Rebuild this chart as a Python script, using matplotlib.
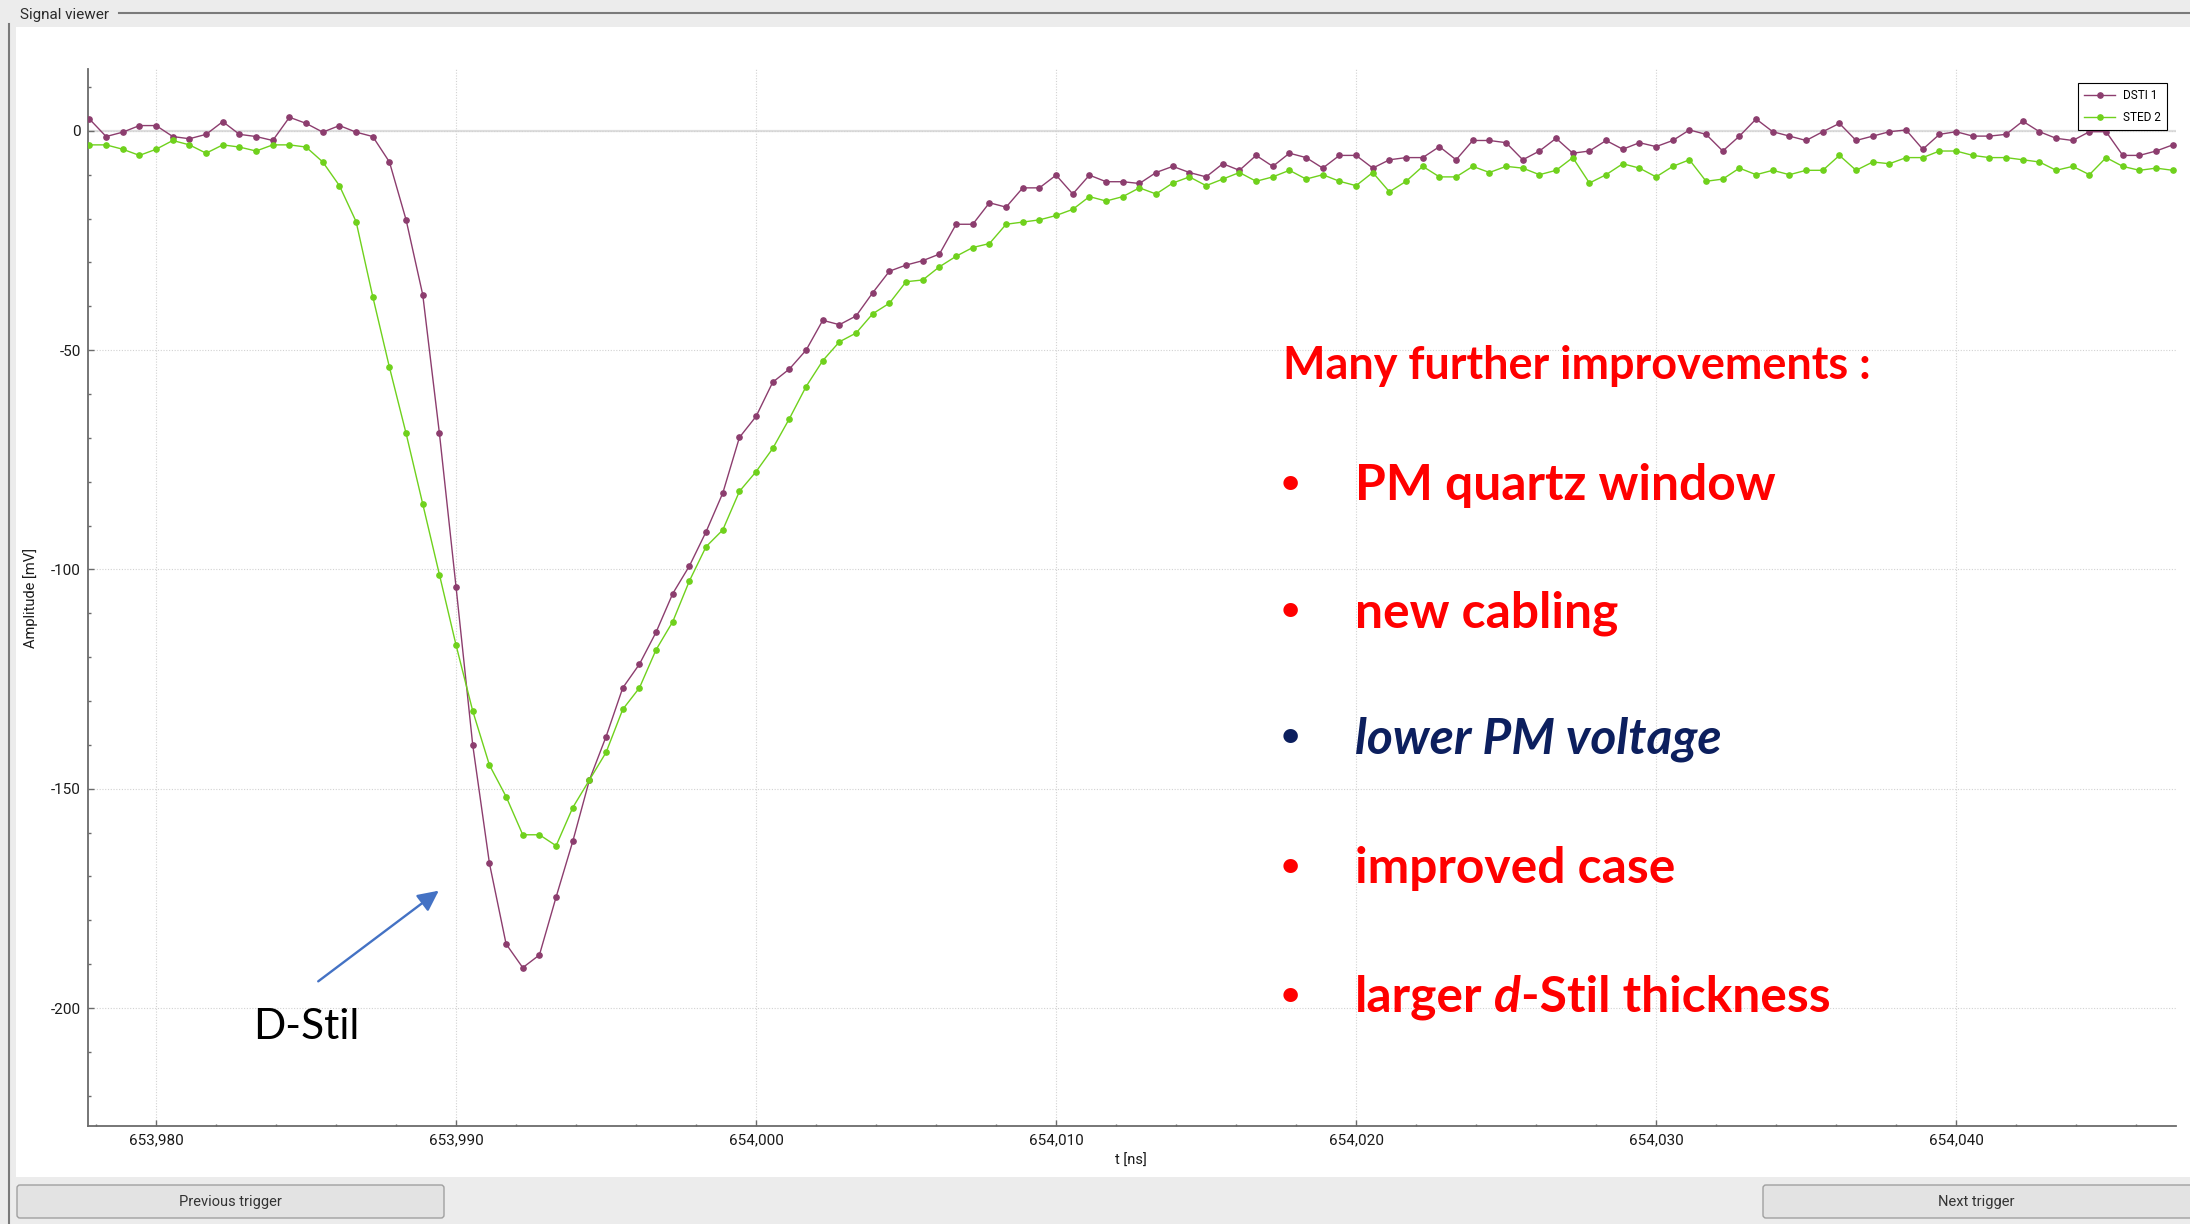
import numpy as np
import matplotlib.pyplot as plt
from matplotlib.lines import Line2D
from matplotlib.patches import Rectangle, FancyBboxPatch, FancyArrowPatch
from matplotlib.ticker import MultipleLocator, FuncFormatter
from matplotlib.transforms import IdentityTransform

W, H = 2190, 1224

# digitizer clock: 1.8 GS/s, sample 0 sits on 653,990 ns
T0 = 653990.0
DT = 1 / 1.8
first_sample, last_sample = -22, 103

# amplitudes in mV
dsti1 = [
    2.7, -1.3, -0.3, 1.2, 1.2, -1.3, -1.8, -0.8, 2.1, -0.8, -1.3,
    -2.2, 3.1, 1.7, -0.3, 1.2, -0.3, -1.3, -7.1, -20.3, -37.4, -69.0,
    -104.1, -140.1, -167.0, -185.4, -190.8, -187.9, -174.7, -162.0,
    -148.0, -138.1, -127.0, -121.6, -114.3, -105.5, -99.2, -91.4,
    -82.6, -69.9, -65.1, -57.3, -54.3, -50.0, -43.2, -44.2, -42.2,
    -36.9, -32.0, -30.6, -29.6, -28.1, -21.3, -21.3, -16.4, -17.4,
    -13.0, -13.0, -10.1, -14.4, -10.1, -11.6, -11.6, -12.0,
    -9.5, -8.1, -9.5, -10.5, -7.5, -9.0, -5.6, -8.1, -5.1, -6.1,
    -8.5, -5.6, -5.6, -8.5, -6.6, -6.1, -6.1, -3.6, -6.6, -2.2,
    -2.2, -2.7, -6.6, -4.6, -1.7, -5.1, -4.6, -2.2, -4.2, -2.7,
    -3.6, -2.2, 0.2, -0.8, -4.6, -1.2, 2.7, -0.2, -1.2, -2.2, -0.2,
    1.7, -2.2, -1.2, -0.2, 0.2, -4.2, -0.8, -0.2, -1.2, -1.2, -0.8,
    2.2, -0.2, -1.7, -2.2, -0.2, -0.2, -5.6, -5.6, -4.6, -3.2,
]
sted2 = [
    -3.2, -3.2, -4.2, -5.6, -4.2, -2.2, -3.2, -5.1, -3.2, -3.7, -4.6,
    -3.2, -3.2, -3.7, -7.1, -12.5, -20.7, -37.8, -53.9, -69.0, -85.1,
    -101.2,
    -117.3, -132.3, -144.6, -151.8, -160.5, -160.5, -163.0, -154.3,
    -148.0, -141.7, -131.9, -127.0, -118.3, -111.9, -102.6, -94.8,
    -91.0, -82.2, -77.7, -72.4, -65.6, -58.3, -52.4, -48.1, -46.1,
    -41.7, -39.3, -34.4, -34.0, -31.0, -28.6, -26.6, -25.7, -21.3,
    -20.8, -20.3, -19.3, -17.9, -15.0, -16.0, -15.0, -13.0,
    -14.4, -11.9, -10.5, -12.5, -11.0, -9.5, -11.5, -10.5, -9.0,
    -11.0, -10.0, -11.5, -12.5, -9.5, -13.9, -11.5, -8.1, -10.5,
    -10.5, -8.1, -9.5, -8.1, -8.5, -10.0, -9.0, -6.1, -11.9, -10.0,
    -7.5, -8.5,
    -10.5, -8.1, -6.6, -11.5, -11.0, -8.5, -10.0, -9.0, -10.0, -9.0,
    -9.0, -5.6, -9.0, -7.1, -7.5, -6.1, -6.1, -4.6, -4.6, -5.6, -6.1,
    -6.1, -6.6, -7.1, -9.0, -8.1, -10.0, -6.1, -8.1, -9.0, -8.5, -9.0,
]

series_names = ['DSTI 1', 'STED 2']
series_colors = ['#8c3d6e', '#6fd11c']

notes_title = 'Many further improvements :'
notes = ['PM quartz window', 'new cabling', 'lower PM voltage',
         'improved case', 'larger d-Stil thickness']

t_ns = T0 + DT * np.arange(first_sample, last_sample + 1)


def fx(px):
    return px / W


def fy(py):
    return 1 - py / H


plt.rcParams['font.family'] = ['Roboto', 'DejaVu Sans']

fig = plt.figure(figsize=(W / 100, H / 100), dpi=100, facecolor='#ececec')

# window chrome
fig.add_artist(Rectangle((fx(16), fy(1177)), fx(W) - fx(16), fy(27) - fy(1177),
                         transform=fig.transFigure, facecolor='white',
                         edgecolor='none', zorder=0))
fig.add_artist(Line2D([fx(119), fx(W)], [fy(13), fy(13)], transform=fig.transFigure,
                      color='#7a7a7a', lw=1.5))
fig.add_artist(Line2D([fx(9), fx(9)], [fy(24), fy(H)], transform=fig.transFigure,
                      color='#7a7a7a', lw=1.5))
fig.text(fx(20), fy(15), 'Signal viewer', fontsize=11, color='#2b2b2b',
         ha='left', va='center')

for x0, x1, label in [(17, 444, 'Previous trigger'), (1763, 2196, 'Next trigger')]:
    fig.add_artist(FancyBboxPatch((x0, H - 1218), x1 - x0, 33,
                                  boxstyle='round,pad=0,rounding_size=3',
                                  transform=IdentityTransform(),
                                  facecolor='#e3e3e3', edgecolor='#a0a0a0', lw=1))
    fig.text(fx((x0 + min(x1, W)) / 2), fy(1202), label, fontsize=10.5,
             color='#333333', ha='center', va='center')

# plot area
ax = fig.add_axes([fx(88), fy(1126), fx(2176) - fx(88), fy(69) - fy(1126)])
ax.set_facecolor('white')

for values, name, color in zip([dsti1, sted2], series_names, series_colors):
    ax.plot(t_ns, values, color=color, lw=1.0, marker='o', ms=3.8,
            label=name, zorder=3)

ax.set_xlim(653977.73, 654047.33)
ax.set_ylim(-226.9, 14.1)

ax.axhline(0, color='#dedede', lw=1.6, zorder=1)
ax.grid(which='major', color='#d2d2d2', linestyle=(0, (1, 1.5)), lw=0.8, zorder=0)

ax.xaxis.set_major_locator(MultipleLocator(10))
ax.xaxis.set_minor_locator(MultipleLocator(2))
ax.yaxis.set_major_locator(MultipleLocator(50))
ax.yaxis.set_minor_locator(MultipleLocator(10))
ax.xaxis.set_major_formatter(FuncFormatter(lambda v, p: f'{v:,.0f}'))
ax.yaxis.set_major_formatter(FuncFormatter(lambda v, p: f'{v:.0f}'))

for side in ['top', 'right']:
    ax.spines[side].set_visible(False)
for side in ['left', 'bottom']:
    ax.spines[side].set_color('#6b6b6b')
    ax.spines[side].set_linewidth(1.3)

ax.tick_params(which='major', direction='in', length=4.3, width=1,
               color='#6b6b6b', labelsize=11, labelcolor='#1a1a1a', pad=5)
ax.tick_params(which='minor', direction='in', length=1.8, width=1,
               color='#6b6b6b')

ax.set_xlabel('t [ns]', fontsize=10.5, color='#1a1a1a')
ax.xaxis.set_label_coords(0.4995, -0.033)
ax.xaxis.label.set_va('center')
ax.set_ylabel('Amplitude [mV]', fontsize=10.5, color='#1a1a1a')
ax.yaxis.set_label_coords(-0.0273, 0.5)
ax.yaxis.label.set_va('center')

leg = ax.legend(loc='upper right', bbox_to_anchor=(fx(2167), fy(83)),
                bbox_transform=fig.transFigure, borderaxespad=0,
                fontsize=8.5, handlelength=2.6, handletextpad=0.7,
                labelspacing=0.75, borderpad=0.5, fancybox=False,
                framealpha=1, edgecolor='black')
leg.get_frame().set_linewidth(0.8)

# slide notes on top of the viewer
RED = '#ff0000'
NAVY = '#0c1f5e'
note_font = ['Lato', 'DejaVu Sans']
NOTE_SIZE = 35.8

fig.text(fx(1283), fy(379), notes_title, color=RED, fontsize=32.4,
         fontweight='bold', family=note_font, va='baseline', ha='left')

baselines = [500, 627, 753, 883, 1012]
renderer = fig.canvas.get_renderer()
for note, base in zip(notes, baselines):
    color = NAVY if note.startswith('lower') else RED
    style = 'italic' if note.startswith('lower') else 'normal'
    fig.text(fx(1281), fy(base - 7), '\u2022', color=color, fontsize=24,
             fontweight='bold', family=note_font, va='baseline', ha='left')
    if note.startswith('larger'):
        head, rest = note.split(' d', 1)
        pieces = [(head, 'normal'), ('d', 'italic'), (rest, 'normal')]
    else:
        pieces = [(note, style)]
    x = 1355
    for i, (piece, pstyle) in enumerate(pieces):
        txt = fig.text(fx(x), fy(base), piece, color=color, fontsize=NOTE_SIZE,
                       fontweight='bold', style=pstyle, family=note_font,
                       va='baseline', ha='left')
        x = txt.get_window_extent(renderer).x1
        if i == 0 and len(pieces) > 1:
            x += 0.23 * NOTE_SIZE * 100 / 72

fig.text(fx(253), fy(1039), 'D-Stil', color='black', fontsize=30.6,
         family=note_font, va='baseline', ha='left')
fig.add_artist(FancyArrowPatch((fx(316), fy(983)), (fx(441), fy(889)),
                               transform=fig.transFigure,
                               arrowstyle='-|>,head_length=0.45,head_width=0.22',
                               mutation_scale=28, lw=1.7, color='#4472c4'))

fig.savefig('out.png', dpi=100, facecolor=fig.get_facecolor())
